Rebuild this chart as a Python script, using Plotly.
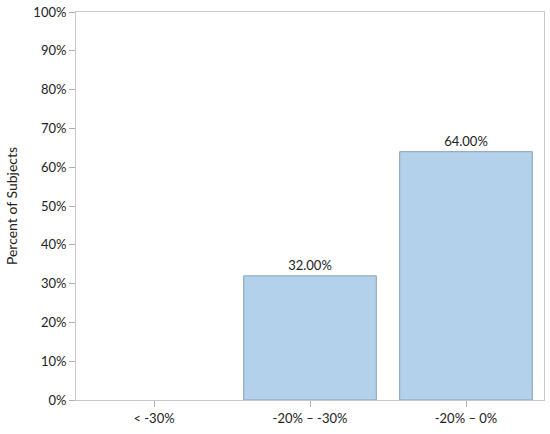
import plotly.graph_objects as go

# data
categories = ["< -30%", "-20% – -30%", "-20% – 0%"]
percent = [0, 32, 64]
labels = ["", "32.00%", "64.00%"]
y_ticks = list(range(0, 101, 10))
y_tick_text = [f"{v}%" for v in y_ticks]

fig = go.Figure()
fig.add_trace(go.Bar(
    x=categories,
    y=percent,
    text=labels,
    textposition="outside",
    cliponaxis=False,
    textfont=dict(size=13, color="#222222"),
    # no outline on the empty first bar
    marker=dict(color="#b3d1eb",
                line=dict(color="#8a9eb0", width=[0 if v == 0 else 1 for v in percent])),
    width=0.85,
))

fig.update_layout(
    width=550,
    height=434,
    margin=dict(l=76, r=6, t=12, b=34),
    plot_bgcolor="white",
    paper_bgcolor="white",
    font=dict(family="Lato", size=13, color="#222222"),
    showlegend=False,
    xaxis=dict(
        showline=True, linecolor="#c8c8c8", mirror=True,
        ticks="outside", ticklen=6, tickcolor="#b0b0b0",
        showgrid=False, range=[-0.5, 2.5], automargin=False,
    ),
    yaxis=dict(
        title=dict(text="Percent of Subjects", standoff=12, font=dict(size=14)),
        range=[0, 100], tickvals=y_ticks, ticktext=y_tick_text,
        showline=True, linecolor="#c8c8c8", mirror=True,
        ticks="outside", ticklen=6, tickcolor="#b0b0b0",
        showgrid=False, zeroline=False, automargin=False,
    ),
)

# drop the default body margin so the figure fills the window
fig.write_html("out.html", config={"displayModeBar": False},
               post_script="document.body.style.margin='0';")
